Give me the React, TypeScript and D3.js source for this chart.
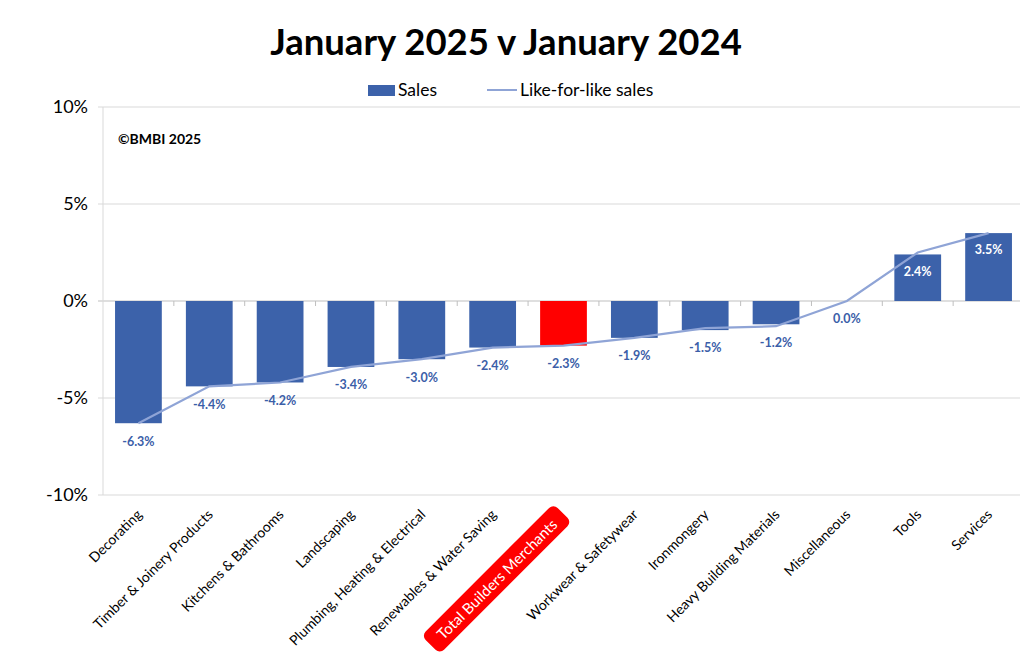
import React, { useEffect, useRef } from 'react';
import * as d3 from 'd3';

const categories = [
  'Decorating',
  'Timber & Joinery Products',
  'Kitchens & Bathrooms',
  'Landscaping',
  'Plumbing, Heating & Electrical',
  'Renewables & Water Saving',
  'Total Builders Merchants',
  'Workwear & Safetywear',
  'Ironmongery',
  'Heavy Building Materials',
  'Miscellaneous',
  'Tools',
  'Services',
];
const sales = [-6.3, -4.4, -4.2, -3.4, -3.0, -2.4, -2.3, -1.9, -1.5, -1.2, 0.0, 2.4, 3.5];
const likeForLike = [-6.3, -4.4, -4.2, -3.4, -3.0, -2.4, -2.3, -1.9, -1.4, -1.3, 0.0, 2.5, 3.5];
const yTicks = [-10, -5, 0, 5, 10];
const highlight = 'Total Builders Merchants';

const W = 1024;
const H = 669;
const FONT = 'Lato, "Noto Sans", sans-serif';
const BLUE = '#3c62aa';
const LINE = '#8fa4d6';
const LABEL_BLUE = '#3b5ea8';

export default function App() {
  const svgRef = useRef<SVGSVGElement>(null);

  useEffect(() => {
    document.body.style.margin = '0';
    if (!svgRef.current) return;
    const svg = d3.select(svgRef.current);
    svg.selectAll('*').remove();

    const left = 103, right = 1024, top = 107, bottom = 495;

    const x = d3.scaleBand().domain(categories).range([left, right]).paddingInner(0.34).paddingOuter(0.17);
    const xb = d3.scaleBand().domain(categories).range([left, right]);
    const y = d3.scaleLinear().domain([-10, 10]).range([bottom, top]);
    const cx = (c: string) => (xb(c) as number) + xb.bandwidth() / 2;

    svg.append('rect').attr('width', W).attr('height', H).attr('fill', '#fff');

    // title
    svg.append('text')
      .attr('x', 506).attr('y', 55)
      .attr('text-anchor', 'middle')
      .style('font-family', FONT).style('font-weight', 700).style('font-size', '36.5px')
      .text('January 2025 v January 2024');

    // legend
    const lg = svg.append('g').attr('transform', 'translate(368,90)');
    lg.append('rect').attr('x', 0).attr('y', -5).attr('width', 27).attr('height', 11).attr('fill', BLUE);
    lg.append('text').attr('x', 30).attr('y', 6)
      .style('font-family', FONT).style('font-size', '17.5px').text('Sales');
    lg.append('line').attr('x1', 119).attr('x2', 149).attr('y1', 0).attr('y2', 0)
      .attr('stroke', LINE).attr('stroke-width', 2);
    lg.append('text').attr('x', 152).attr('y', 6)
      .style('font-family', FONT).style('font-size', '17.5px').text('Like-for-like sales');

    // gridlines & y axis
    yTicks.forEach(t => {
      svg.append('line')
        .attr('x1', left - 5).attr('x2', 1020)
        .attr('y1', y(t)).attr('y2', y(t))
        .attr('stroke', t === 0 ? '#bfbfbf' : '#d9d9d9').attr('stroke-width', 1);
      svg.append('text')
        .attr('x', 88).attr('y', y(t)).attr('dy', '0.35em')
        .attr('text-anchor', 'end')
        .style('font-family', FONT).style('font-size', '18px')
        .text(`${t}%`);
    });
    svg.append('line')
      .attr('x1', left).attr('x2', left).attr('y1', top).attr('y2', bottom)
      .attr('stroke', '#d9d9d9');

    // category ticks on zero line
    categories.slice(1).forEach(c => {
      const bx = xb(c) as number;
      svg.append('line')
        .attr('x1', bx).attr('x2', bx).attr('y1', y(0)).attr('y2', y(0) + 5)
        .attr('stroke', '#bfbfbf');
    });

    svg.append('text')
      .attr('x', 118).attr('y', 144)
      .style('font-family', FONT).style('font-weight', 700).style('font-size', '14px')
      .text('©BMBI 2025');

    // bars
    svg.selectAll('.bar')
      .data(categories)
      .enter()
      .append('rect')
      .attr('class', 'bar')
      .attr('x', d => x(d) as number)
      .attr('width', x.bandwidth())
      .attr('y', (d, i) => y(Math.max(0, sales[i])))
      .attr('height', (d, i) => Math.abs(y(sales[i]) - y(0)))
      .attr('fill', d => (d === highlight ? '#ff0000' : BLUE));

    // like-for-like line
    const line = d3.line<number>()
      .x((d, i) => cx(categories[i]))
      .y(d => y(d));
    svg.append('path')
      .datum(likeForLike)
      .attr('d', line)
      .attr('fill', 'none')
      .attr('stroke', LINE)
      .attr('stroke-width', 2.2);

    // value labels
    sales.forEach((v, i) => {
      const pos = v > 0;
      svg.append('text')
        .attr('x', cx(categories[i]))
        .attr('y', pos ? y(v) + 17 : y(v) + 18)
        .attr('dy', '0.35em')
        .attr('text-anchor', 'middle')
        .attr('fill', pos ? '#fff' : LABEL_BLUE)
        .style('font-family', FONT).style('font-weight', 700).style('font-size', '12.5px')
        .text(`${v.toFixed(1)}%`);
    });

    // x labels
    categories.forEach(c => {
      const hl = c === highlight;
      const g = svg.append('g')
        .attr('transform', `translate(${cx(c) + 1},${bottom + 17}) rotate(-45)`);
      const t = g.append('text')
        .attr('x', hl ? -14 : 0)
        .attr('text-anchor', 'end')
        .attr('dy', '0.35em')
        .style('font-family', FONT).style('font-size', hl ? '15px' : '14px')
        .attr('fill', hl ? '#fff' : '#000')
        .text(c);
      if (hl) {
        const bb = (t.node() as SVGTextElement).getBBox();
        g.insert('rect', 'text')
          .attr('x', bb.x - 12).attr('y', bb.y - 4)
          .attr('width', bb.width + 24).attr('height', bb.height + 8)
          .attr('rx', 6)
          .attr('fill', '#ff0000');
      }
    });
  }, []);

  return <svg ref={svgRef} width={W} height={H} style={{ display: 'block' }} />;
}
